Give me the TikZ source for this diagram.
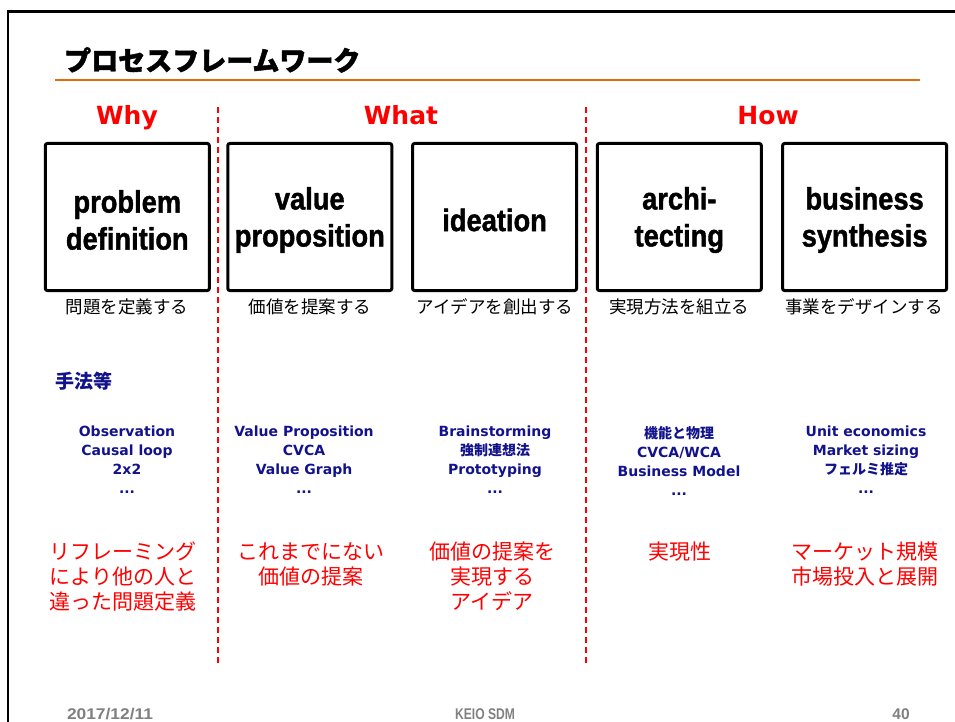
\documentclass[tikz,border=0pt]{standalone}
\usepackage{fontspec}
\usepackage{graphicx}
\setmainfont{DejaVu Sans}
\newfontfamily\jp{Noto Sans CJK JP}
\newfontfamily\jpheavy{Noto Sans CJK JP}[FakeBold=1.6]
\newfontfamily\lib{Liberation Sans}
\newfontfamily\heavy{Liberation Sans}[FakeBold=1.4]
\definecolor{navyblue}{RGB}{18,18,140}
\definecolor{titleorange}{RGB}{228,108,10}
\definecolor{footgray}{RGB}{128,128,128}
\definecolor{divred}{RGB}{255,0,0}
\tikzset{
  hdr/.style={anchor=base, text=red, inner sep=0, font=\fontsize{25}{30}\selectfont\bfseries},
  stagebox/.style={draw, line width=3pt, rounded corners=2pt, minimum width=164pt, minimum height=147pt, inner sep=0},
  stagelabel/.style={align=center, inner sep=0, xscale=0.88, font=\heavy\bfseries\fontsize{31}{37}\selectfont},
  caption/.style={inner sep=0, font=\jp\fontsize{17.5}{21}\selectfont},
  method/.style={anchor=north, align=center, inner sep=0, text=navyblue, font=\bfseries\fontsize{14}{19}\selectfont},
  redtext/.style={anchor=north, align=center, inner sep=0, text=red, font=\jp\fontsize{21}{25}\selectfont},
  divider/.style={draw=divred, line width=1.6pt, dash pattern=on 6pt off 4pt},
  foot/.style={anchor=base, inner sep=0, text=footgray, font=\lib\bfseries\fontsize{15.5}{19}\selectfont}
}
\begin{document}
\begin{tikzpicture}[x=1pt,y=-1pt]
\useasboundingbox (0,0) rectangle (955,722);
% frame
\coordinate (frameTL) at (8,11.5);
\coordinate (frameTR) at (955,11.5);
\coordinate (frameBL) at (8,722);
\draw[line width=2.3pt] (frameBL) -- (frameTL) -- (frameTR);
% title
\node[anchor=west, inner sep=0, font=\jpheavy\bfseries\fontsize{27}{30}\selectfont] (title) at (64,60) {プロセスフレームワーク};
\coordinate (ruleL) at (55,80);
\coordinate (ruleR) at (920,80);
\draw[titleorange, line width=2.6pt] (ruleL) -- (ruleR);
% headers
\node[hdr] (why) at (127,125) {Why};
\node[hdr] (what) at (401,125) {What};
\node[hdr] (how) at (768,125) {How};
% dividers
\coordinate (d1t) at (218,107);
\coordinate (d1b) at (218,663);
\coordinate (d2t) at (586,107);
\coordinate (d2b) at (586,663);
\draw[divider] (d1t) -- (d1b);
\draw[divider] (d2t) -- (d2b);
% boxes
\node[stagebox] (b1) at (127.3,217) {};
\node[stagebox] (b2) at (309.8,217) {};
\node[stagebox] (b3) at (494.6,217) {};
\node[stagebox] (b4) at (679.3,217) {};
\node[stagebox] (b5) at (864.6,217) {};
\node[stagelabel] (l1) at ([yshift=-3]b1.center) {problem\\definition};
\node[stagelabel] (l2) at ([yshift=-3]b2.center) {value\\proposition};
\node[stagelabel] (l3) at ([yshift=-3]b3.center) {ideation};
\node[stagelabel] (l4) at ([yshift=-3]b4.center) {archi-\\tecting};
\node[stagelabel] (l5) at ([yshift=-3]b5.center) {business\\synthesis};
% captions
\node[caption] (c1) at (127,307) {問題を定義する};
\node[caption] (c2) at (310,307) {価値を提案する};
\node[caption] (c3) at (495,307) {アイデアを創出する};
\node[caption] (c4) at (679,307) {実現方法を組立る};
\node[caption] (c5) at (864,307) {事業をデザインする};
% methods
\node[anchor=west, inner sep=0, text=navyblue, font=\jp\bfseries\fontsize{19}{22}\selectfont] (tools) at (55,381) {手法等};
\node[method] (m1) at (127,426) {Observation\\Causal loop\\2x2\\...};
\node[method] (m2) at (304,426) {Value Proposition\\CVCA\\Value Graph\\...};
\node[method] (m3) at (495,426) {Brainstorming\\{\jp\bfseries 強制連想法}\\Prototyping\\...};
\node[method] (m4) at (679,426) {{\jp\bfseries 機能と物理}\\CVCA/WCA\\Business Model\\...};
\node[method] (m5) at (866,426) {Unit economics\\Market sizing\\{\jp\bfseries フェルミ推定}\\...};
% red descriptions
\node[redtext] (r1) at (123,542) {リフレーミング\\により他の人と\\違った問題定義};
\node[redtext] (r2) at (311,542) {これまでにない\\価値の提案};
\node[redtext] (r3) at (492,542) {価値の提案を\\実現する\\アイデア};
\node[redtext] (r4) at (680,542) {実現性};
\node[redtext] (r5) at (865,542) {マーケット規模\\市場投入と展開};
% footer
\node[foot, xscale=1.12] (date) at (110,719) {2017/12/11};
\node[foot, xscale=0.78] (org) at (485,719) {KEIO SDM};
\node[foot] (page) at (901,719) {40};
\end{tikzpicture}
\end{document}
